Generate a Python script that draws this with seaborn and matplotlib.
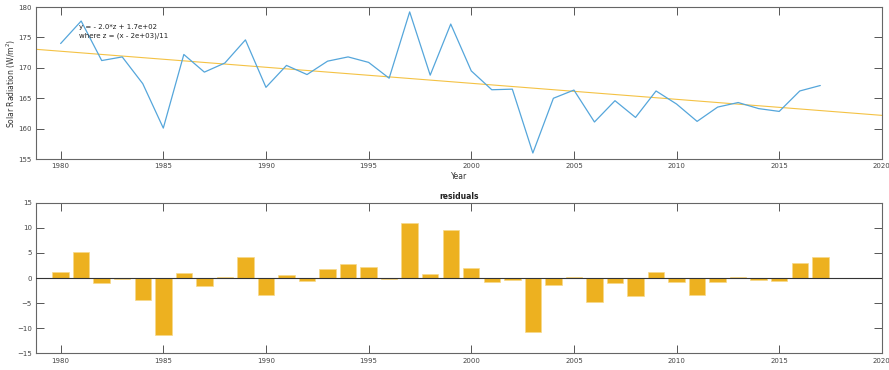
import numpy as np
import pandas as pd
import matplotlib
matplotlib.use("Agg")
import matplotlib.pyplot as plt
import seaborn as sns

years = list(range(1980, 2018))
radiation = [174.0, 177.7, 171.2, 171.8, 167.4, 160.1, 172.2, 169.3, 170.8, 174.6,
             166.8, 170.4, 168.9, 171.1, 171.8, 170.9, 168.3, 179.2, 168.8, 177.2,
             169.5, 166.4, 166.5, 156.0, 165.0, 166.35, 161.1, 164.6, 161.85, 166.2,
             164.05, 161.2, 163.55, 164.3, 163.3, 162.84, 166.2, 167.1]
xticks = [1980, 1985, 1990, 1995, 2000, 2005, 2010, 2015, 2020]
yticks_top = [155, 160, 165, 170, 175, 180]
yticks_bot = [-15, -10, -5, 0, 5, 10, 15]
fit_text = ["y = - 2.0*z + 1.7e+02", "where z = (x - 2e+03)/11"]

sns.set_theme(style="white")
plt.rcParams['font.family'] = ['DejaVu Sans']

x = np.array(years, dtype=float)
y = np.array(radiation)
coef = np.polyfit(x, y, 1)
resid = y - np.polyval(coef, x)
xlim = (1978.8, 2020)
xl = np.array(xlim)
df = pd.DataFrame({"Year": x, "Rad": y, "Res": resid})
trend = pd.DataFrame({"Year": xl, "Fit": np.polyval(coef, xl)})

fig = plt.figure(figsize=(8.89, 3.70), dpi=100)
ax1 = fig.add_axes([0.0405, 0.570, 0.9515, 0.411])
ax2 = fig.add_axes([0.0405, 0.045, 0.9515, 0.407])

blue = '#55A6DB'
gold = '#EDB120'

sns.lineplot(data=trend, x="Year", y="Fit", ax=ax1, color='#F4C244', lw=0.8)
sns.lineplot(data=df, x="Year", y="Rad", ax=ax1, color=blue, lw=0.9)
ax1.set_xlim(*xlim)
ax1.set_ylim(155, 180)
ax1.set_xticks(xticks)
ax1.set_yticks(yticks_top)
ax1.set_xlabel("Year", fontsize=5.5, color='#333333', labelpad=2)
ax1.set_ylabel("Solar Radiation (W/m$^2$)", fontsize=5.5, color='#333333')
ax1.yaxis.set_label_coords(-0.021, 0.5)
ax1.text(1980.9, 176.7, fit_text[0], fontsize=5, color='#222222', va='center')
ax1.text(1980.9, 175.2, fit_text[1], fontsize=5, color='#222222', va='center')

sns.barplot(data=df, x="Year", y="Res", ax=ax2, native_scale=True, color=gold,
            saturation=1, width=0.8, edgecolor='#F7D98A', linewidth=0.5)
ax2.axhline(0, color='#333333', lw=0.8, zorder=3)
ax2.set_xlim(*xlim)
ax2.set_ylim(-15, 15)
ax2.set_xticks(xticks)
ax2.set_yticks(yticks_bot)
ax2.set_xlabel("")
ax2.set_ylabel("")
ax2.set_title("residuals", fontsize=5.5, fontweight='bold', color='#222222', pad=3)

for ax in (ax1, ax2):
    ax.tick_params(direction='in', length=5.5, width=0.7, color='#555555',
                   labelsize=5, labelcolor='#444444', top=True, right=True,
                   bottom=True, left=True, pad=3)
    for s in ax.spines.values():
        s.set_color('#666666')
        s.set_linewidth(0.8)
        s.set_visible(True)
    ax.grid(False)

fig.savefig("out.png", dpi=100)
